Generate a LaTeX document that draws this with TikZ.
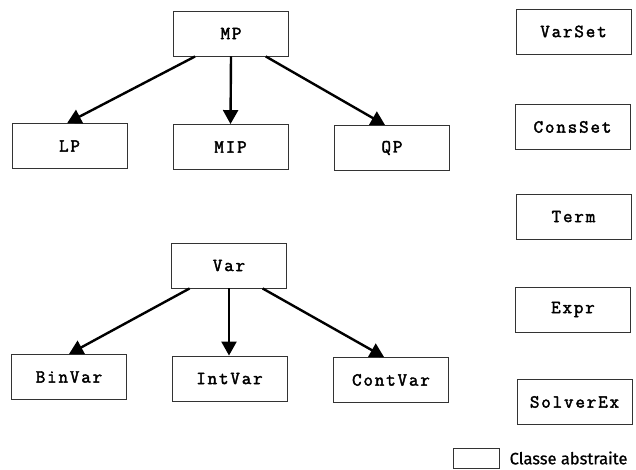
\documentclass[tikz,border=0pt]{standalone}
\usepackage{fontspec}
\setmainfont{Liberation Serif}
\newfontfamily\classfont{Latin Modern Mono}[FakeBold=2.2,LetterSpace=10]
\newfontfamily\legendfont{Fira Sans}[FakeBold=0.8]
\usetikzlibrary{arrows.meta,calc}
\begin{document}
\begin{tikzpicture}[x=1pt,y=-1pt,
  cls/.style={draw=black!80, line width=0.9pt, fill=white,
    minimum width=115pt, minimum height=45pt, inner sep=0pt,
    font=\classfont\fontsize{18.5}{20}\selectfont},
  inherit/.style={line width=2.4pt, -{Triangle[length=14pt,width=15pt]}},
  legendbox/.style={draw=black!80, line width=0.9pt,
    minimum width=46pt, minimum height=20pt, inner sep=0pt}]
\useasboundingbox (0,0) rectangle (636,470);

% model hierarchy
\node[cls] (MP)  at (231,33.5)  {MP};
\node[cls] (LP)  at (69.5,146)  {LP};
\node[cls] (MIP) at (230.5,147) {MIP};
\node[cls] (QP)  at (392,148)   {QP};

% variable hierarchy
\node[cls] (Var)     at (229,265.5) {Var};
\node[cls] (BinVar)  at (69,377)    {BinVar};
\node[cls] (IntVar)  at (229.5,378.5) {IntVar};
\node[cls] (ContVar) at (391,380)   {ContVar};

% standalone classes
\node[cls] (VarSet)   at (573.5,31.5)  {VarSet};
\node[cls] (ConsSet)  at (572.5,127)   {ConsSet};
\node[cls] (Term)     at (573.5,216.5) {Term};
\node[cls] (Expr)     at (573,309.5)   {Expr};
\node[cls] (SolverEx) at (574.5,402)   {SolverEx};

% inheritance arrows
\draw[inherit] ($(MP.south west)!0.19!(MP.south east)$) -- ($(LP.north west)!0.48!(LP.north east)$);
\draw[inherit] (MP.south) -- (MIP.north);
\draw[inherit] ($(MP.south west)!0.8!(MP.south east)$) -- ($(QP.north west)!0.44!(QP.north east)$);

\draw[inherit] ($(Var.south west)!0.16!(Var.south east)$) -- ($(BinVar.north west)!0.5!(BinVar.north east)$);
\draw[inherit] (Var.south) -- (Var.south |- IntVar.north);
\draw[inherit] ($(Var.south west)!0.79!(Var.south east)$) -- ($(ContVar.north west)!0.44!(ContVar.north east)$);

% legend
\node[legendbox] (legend) at (476,458) {};
\node[anchor=west, inner sep=0pt, font=\legendfont\fontsize{16.5}{18}\selectfont]
  (legendtext) at ($(legend.east)+(10,0)$) {Classe abstraite};
\end{tikzpicture}
\end{document}
